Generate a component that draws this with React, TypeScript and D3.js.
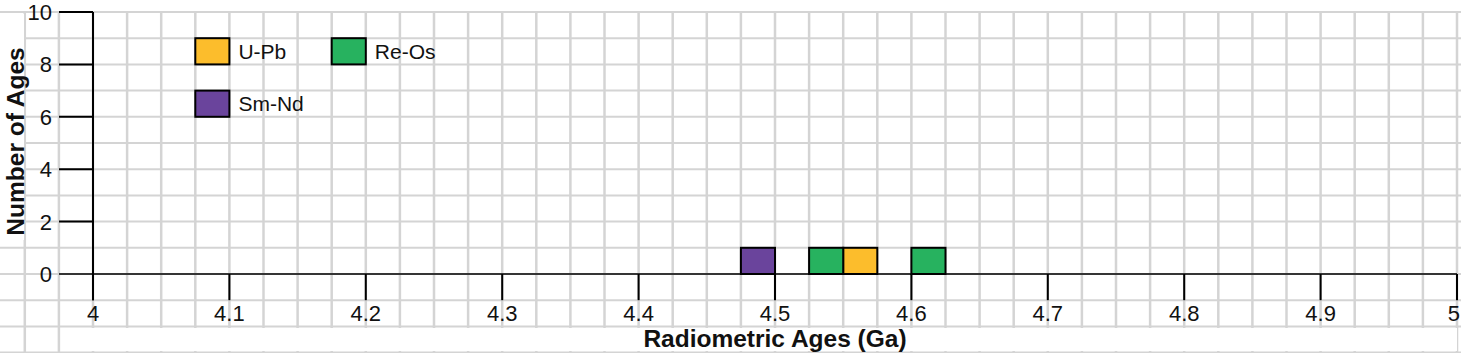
import React, { useEffect, useRef } from "react";
import * as d3 from "d3";

// ages (Ga), one entry per dated sample
const upbAges = [4.56];
const reosAges = [4.53, 4.61];
const smndAges = [4.49];

const methods = ["U-Pb", "Re-Os", "Sm-Nd"];
const methodColors = ["#fcbd2c", "#27b25f", "#6a449c"];
const xTicks = [4, 4.1, 4.2, 4.3, 4.4, 4.5, 4.6, 4.7, 4.8, 4.9, 5];
const yTicks = [0, 2, 4, 6, 8, 10];

const binWidth = 0.025;

export default function App() {
  const ref = useRef<SVGSVGElement>(null);

  useEffect(() => {
    const W = 1461, H = 353;
    const svg = d3.select(ref.current);
    svg.selectAll("*").remove();
    const font = "'Liberation Sans', Arial, sans-serif";

    const x = d3.scaleLinear().domain([4, 5]).range([93, 1457]);
    const y = d3.scaleLinear().domain([0, 10]).range([274, 12]);
    const cellW = x(4 + binWidth) - x(4);
    const cellH = y(0) - y(1);

    svg.append("rect").attr("width", W).attr("height", H).attr("fill", "#fff");

    // graph paper background
    const grid = svg.append("g").attr("stroke", "#d4d4d4");
    d3.range(-3, 11).forEach((j) => {
      grid.append("line")
        .attr("x1", 0).attr("x2", W)
        .attr("y1", y(j)).attr("y2", y(j))
        .attr("stroke-width", 2);
    });
    d3.range(-2, 41).forEach((k) => {
      const px = x(4 + k * binWidth);
      grid.append("line")
        .attr("x1", px).attr("x2", px)
        .attr("y1", y(10)).attr("y2", H)
        .attr("stroke-width", 2.5);
    });

    // white patches behind axis titles
    svg.append("rect").attr("x", 0).attr("y", 14).attr("width", 24).attr("height", 226).attr("fill", "#fff");
    svg.append("rect").attr("x", 61).attr("y", 328).attr("width", 1396).attr("height", 23).attr("fill", "#fff");

    // bars: each age fills one 0.025 Ga cell, stacked when a cell repeats
    const series = [upbAges, reosAges, smndAges];
    const stackCount = new Map<number, number>();
    const bars: { bin: number; level: number; m: number }[] = [];
    series.forEach((ages, m) => {
      ages.forEach((a) => {
        const bin = Math.floor((a - 4) / binWidth + 1e-9);
        const level = stackCount.get(bin) || 0;
        stackCount.set(bin, level + 1);
        bars.push({ bin, level, m });
      });
    });
    svg.append("g")
      .selectAll("rect")
      .data(bars)
      .enter()
      .append("rect")
      .attr("x", (d) => x(4 + d.bin * binWidth))
      .attr("y", (d) => y(d.level + 1))
      .attr("width", cellW)
      .attr("height", cellH)
      .attr("fill", (d) => methodColors[d.m])
      .attr("stroke", "#000")
      .attr("stroke-width", 2);

    // axes
    const axis = svg.append("g").attr("stroke", "#000");
    axis.append("line")
      .attr("x1", 59).attr("x2", x(5))
      .attr("y1", y(0)).attr("y2", y(0))
      .attr("stroke-width", 1.5);
    axis.append("line")
      .attr("x1", x(4)).attr("x2", x(4))
      .attr("y1", y(10)).attr("y2", y(-1))
      .attr("stroke-width", 2);
    yTicks.filter((t) => t > 0).forEach((t) => {
      axis.append("line")
        .attr("x1", 59).attr("x2", x(4))
        .attr("y1", y(t)).attr("y2", y(t))
        .attr("stroke-width", 2);
    });
    xTicks.forEach((t) => {
      axis.append("line")
        .attr("x1", x(t)).attr("x2", x(t))
        .attr("y1", y(0)).attr("y2", y(-1))
        .attr("stroke-width", 2);
    });

    svg.append("g")
      .selectAll("text")
      .data(yTicks)
      .enter()
      .append("text")
      .attr("x", 52)
      .attr("y", (d) => y(d) + 8)
      .attr("text-anchor", "end")
      .style("font-family", font)
      .style("font-size", "22px")
      .attr("fill", "#111")
      .text((d) => d);

    svg.append("g")
      .selectAll("text")
      .data(xTicks)
      .enter()
      .append("text")
      .attr("x", (d) => x(d))
      .attr("y", 321)
      .attr("text-anchor", (d) => (d === 5 ? "end" : "middle"))
      .attr("dx", (d) => (d === 5 ? 3 : 0))
      .style("font-family", font)
      .style("font-size", "22px")
      .attr("fill", "#111")
      .text((d) => d);

    // axis titles
    svg.append("text")
      .attr("x", (x(4) + x(5)) / 2)
      .attr("y", 347)
      .attr("text-anchor", "middle")
      .style("font-family", font)
      .style("font-size", "24.5px")
      .style("font-weight", "bold")
      .attr("fill", "#111")
      .text("Radiometric Ages (Ga)");
    svg.append("text")
      .attr("transform", "translate(23.5,141.5) rotate(-90)")
      .attr("text-anchor", "middle")
      .style("font-family", font)
      .style("font-size", "24.5px")
      .style("font-weight", "bold")
      .attr("fill", "#111")
      .text("Number of Ages");

    // legend
    const legendPos = [
      [x(4.075), y(9)],
      [x(4.175), y(9)],
      [x(4.075), y(7)],
    ];
    methods.forEach((name, i) => {
      const [lx, ly] = legendPos[i];
      svg.append("rect")
        .attr("x", lx).attr("y", ly)
        .attr("width", cellW).attr("height", cellH)
        .attr("fill", methodColors[i])
        .attr("stroke", "#000")
        .attr("stroke-width", 2);
      svg.append("text")
        .attr("x", lx + cellW + 9)
        .attr("y", ly + cellH / 2 + 7.5)
        .style("font-family", font)
        .style("font-size", "21px")
        .attr("fill", "#111")
        .text(name);
    });
  }, []);

  return (
    <svg
      ref={ref}
      width={1461}
      height={353}
      style={{ position: "absolute", left: 0, top: 0, display: "block" }}
    />
  );
}
